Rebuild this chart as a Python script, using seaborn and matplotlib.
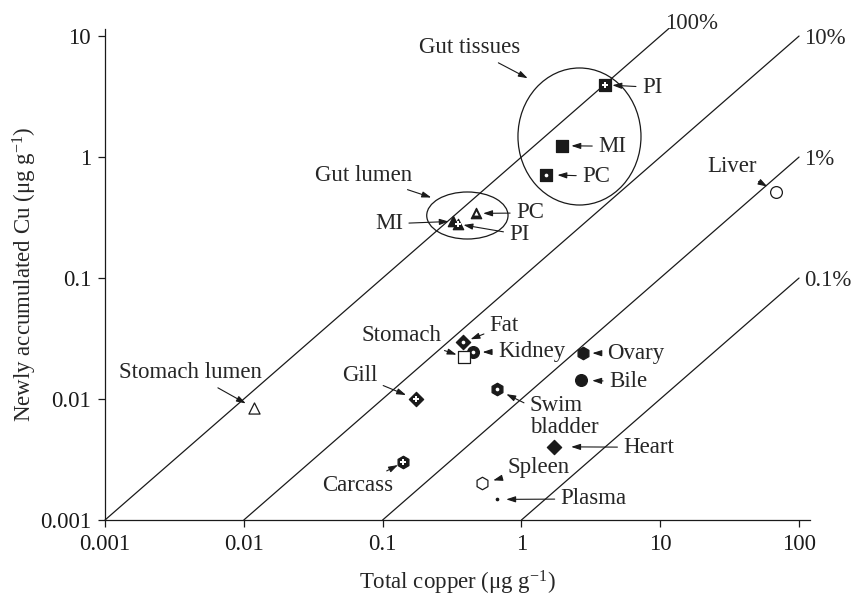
import matplotlib
matplotlib.use("Agg")
import matplotlib.pyplot as plt
from matplotlib.patches import Ellipse
import pandas as pd
import seaborn as sns

# points (total Cu vs newly accumulated Cu, ug/g)
labels = ["PI", "MI", "PC", "MI", "PC", "PI", "Stomach lumen", "Liver", "Stomach",
          "Fat", "Kidney", "Gill", "Swim\nbladder", "Ovary", "Bile", "Carcass",
          "Heart", "Spleen", "Plasma"]
total_cu = [4.0, 1.97, 1.51, 0.321, 0.472, 0.352, 0.0119, 68.7, 0.389,
            0.378, 0.447, 0.175, 0.664, 2.76, 2.69, 0.140, 1.73, 0.524, 0.664]
new_cu = [3.95, 1.24, 0.714, 0.294, 0.342, 0.279, 0.0084, 0.516, 0.0221,
          0.0294, 0.0244, 0.00995, 0.0120, 0.0240, 0.0143, 0.00299, 0.00403,
          0.00201, 0.00148]

# marker shape, fill, inner white mark
shape = ["s", "s", "s", "^", "^", "^", "^", "o", "s",
         "D", "o", "D", "h", "h", "o", "h", "D", "h", "o"]
fill = ["k", "k", "k", "k", "k", "k", "w", "w", "w",
        "k", "k", "k", "k", "k", "k", "k", "k", "w", "k"]
inner = ["P", "", "o", "", "^", "P", "", "", "",
         "o", "o", "P", "o", "", "", "P", "", "", ""]
msize = [64, 64, 64, 56, 56, 56, 64, 72, 64,
         53, 72, 53, 81, 81, 72, 81, 53, 81, 3]

# label offsets (pixels from point), alignment, arrow gap (points)
lab_dx = [37, 36, 36, -50, 40, 51, 8, -44, -23, 27, 25, -39, 33, 25, 28, -45, 69, 25, 64]
lab_dy = [0, 2, 1, 0, 3, -8, 38, 28, 24, 19, 3, 26, -24, 2, 1, -21, 2, 18, 3]
lab_ha = ["left", "left", "left", "right", "left", "left", "right", "center", "right",
          "left", "left", "right", "left", "left", "left", "center", "left", "left", "left"]
gap = [5.3, 6.5, 8, 3, 5, 3.6, 7, 7.5, 6, 6, 7, 8, 7.7, 7, 8, 4, 12, 8, 6.8]

pct = [1.0, 0.1, 0.01, 0.001]
pct_labels = ["100%", "10%", "1%", "0.1%"]
pct_xend = [11.5, 100, 100, 100]

df = pd.DataFrame({"label": labels, "total": total_cu, "new": new_cu,
                   "shape": shape, "fill": fill, "inner": inner, "size": msize})

sns.set_theme(style="ticks")
plt.rcParams["font.family"] = ["Liberation Serif", "DejaVu Serif"]
plt.rcParams["mathtext.fontset"] = "custom"
plt.rcParams["mathtext.rm"] = "Liberation Serif"
plt.rcParams["mathtext.it"] = "Liberation Serif:italic"

fig = plt.figure(figsize=(8.62, 5.98), dpi=100)
ax = fig.add_axes([0.1218, 0.1304, 0.8179, 0.8216])
ax.set_xscale("log")
ax.set_yscale("log")
ax.set_xlim(0.001, 120)
ax.set_ylim(0.001, 11.5)

# percentage lines
for p, lab, xe in zip(pct, pct_labels, pct_xend):
    xs = [0.001 / p, xe]
    sns.lineplot(x=xs, y=[p * v for v in xs], color="k", lw=0.9, ax=ax, clip_on=False)
    off = (-4, 8) if p == 1.0 else (5, 0)
    ax.annotate(lab, xy=(xe, p * xe), xytext=off, textcoords="offset pixels",
                ha="left", va="center_baseline", fontsize=16.5, annotation_clip=False)

# markers
for (m, f, s), g in df.groupby(["shape", "fill", "size"]):
    sns.scatterplot(data=g, x="total", y="new", marker=m, s=s, color=f,
                    edgecolor="k", linewidth=0.9, ax=ax, legend=False, zorder=3)
inner_size = {"P": 14, "o": 7, "^": 9}
for m, g in df[df["inner"] != ""].groupby("inner"):
    sns.scatterplot(data=g, x="total", y="new", marker=m, s=inner_size[m], color="w",
                    linewidth=0, ax=ax, legend=False, zorder=4)

arrow = dict(arrowstyle="-|>,head_length=0.55,head_width=0.18", color="k",
             lw=0.8, mutation_scale=10, shrinkA=2)
for i, row in df.iterrows():
    ap = dict(arrow, shrinkB=gap[i])
    if "\n" in row["label"]:
        ap["relpos"] = (0, 0.75)
    ax.annotate(row["label"], xy=(row["total"], row["new"]),
                xytext=(lab_dx[i], lab_dy[i]), textcoords="offset pixels",
                ha=lab_ha[i], va="center_baseline", fontsize=16.5,
                linespacing=1.05, arrowprops=ap)

# group ellipses and their labels
ax.add_patch(Ellipse((0.673, 0.7806), 0.1745, 0.2789, transform=ax.transAxes,
                     fill=False, ec="k", lw=0.9))
ax.add_patch(Ellipse((0.514, 0.6198), 0.1153, 0.0957, transform=ax.transAxes,
                     fill=False, ec="k", lw=0.9))
ax.annotate("Gut tissues", xy=(1.11, 4.48), xytext=(-58, 33), textcoords="offset pixels",
            ha="center", va="center_baseline", fontsize=16.5,
            arrowprops=dict(arrow, shrinkB=0))
ax.annotate("Gut lumen", xy=(0.224, 0.463), xytext=(-68, 25), textcoords="offset pixels",
            ha="center", va="center_baseline", fontsize=16.5,
            arrowprops=dict(arrow, shrinkB=0))

ticks = [0.001, 0.01, 0.1, 1, 10, 100]
tick_labels = ["0.001", "0.01", "0.1", "1", "10", "100"]
ax.set_xticks(ticks)
ax.set_xticklabels(tick_labels)
ax.set_yticks(ticks[:5])
ax.set_yticklabels(tick_labels[:5])
ax.minorticks_off()
ax.tick_params(labelsize=16.5, length=5, width=0.9, colors="k", pad=5)
for side in ["left", "bottom"]:
    ax.spines[side].set_color("k")
    ax.spines[side].set_linewidth(0.9)
sns.despine(ax=ax)

ax.set_xlabel("Total copper (\u03bcg g$^{-1}$)", fontsize=16.5, labelpad=10)
ax.set_ylabel("Newly accumulated Cu (\u03bcg g$^{-1}$)", fontsize=16.5, labelpad=1)

fig.savefig("out.png", dpi=100)
